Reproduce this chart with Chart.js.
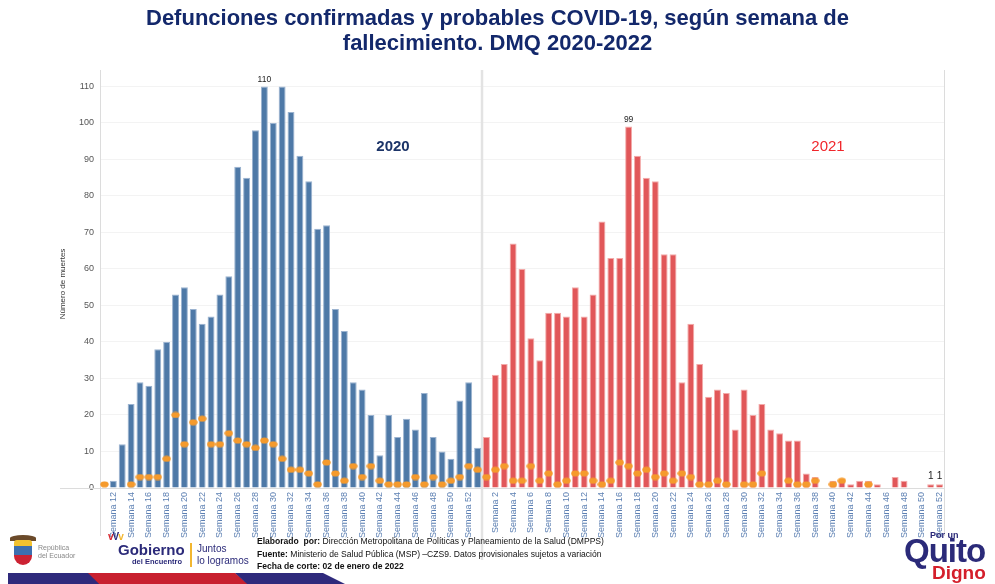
<!DOCTYPE html>
<html>
<head>
<meta charset="utf-8">
<script src="https://cdn.jsdelivr.net/npm/chart.js@4.4.1/dist/chart.umd.min.js"></script>
<style>
  html, body { margin: 0; padding: 0; background: #fff; }
  body { width: 995px; height: 584px; position: relative; overflow: hidden; font-family: "Liberation Sans", Arial, sans-serif; }
  #chart { position: absolute; left: 0; top: 0; }
  .titulo { position: absolute; left: 0; width: 995px; top: 5px; text-align: center; color: #13286b;
    font-weight: bold; font-size: 22px; line-height: 25px; }
  .nota { position: absolute; left: 257px; top: 535px; white-space: nowrap;
    font-size: 9.5px; line-height: 12.5px; color: #111; transform: scaleX(0.9); transform-origin: left top; }
  .nota b { font-weight: bold; }
  .ecu { position: absolute; left: 38px; top: 544px; font-size: 7px; line-height: 8px; color: #888; }
  .escudo { position: absolute; left: 14px; top: 540px; width: 18px; height: 25px; border-radius: 3px 3px 9px 9px;
    background: linear-gradient(#f2c230 0 25%, #3d6fb0 25% 60%, #c23 60%); }
  .condor { position: absolute; left: 10px; top: 535px; width: 26px; height: 6px; border-radius: 50% 50% 0 0; background: #6b4a2a; }
  .gob { position: absolute; left: 118px; top: 542px; color: #2b2a79; font-weight: bold; font-size: 15px; line-height: 15px; white-space: nowrap; }
  .gob small { display: block; font-size: 7.5px; line-height: 10px; margin-left: 14px; }
  .flechas { position: absolute; left: 108px; top: 531px; font-size: 10px; font-weight: bold; letter-spacing: -1px; }
  .juntos { position: absolute; left: 190px; top: 543px; color: #2b2a79; font-size: 10px; line-height: 12px;
    border-left: 2px solid #f2b630; padding-left: 5px; white-space: nowrap; }
  .quito { position: absolute; left: 903px; top: 530px; color: #2b2a79; font-weight: bold; white-space: nowrap; }
  .quito .por { position: absolute; left: 27px; top: 0; font-size: 9px; }
  .quito .q { position: absolute; left: 1px; top: 4px; font-size: 33px; line-height: 34px; letter-spacing: -1px; }
  .quito .d { position: absolute; left: 29px; top: 33px; font-size: 19px; line-height: 20px; color: #d41f2b; }
  .franja { position: absolute; top: 573px; height: 11px; }
</style>
</head>
<body>
<canvas id="chart" width="995" height="584"></canvas>
<div class="titulo">Defunciones confirmadas y probables COVID-19, según semana de<br>fallecimiento. DMQ 2020-2022</div>

<div class="condor"></div>
<div class="escudo"></div>
<div class="ecu">República<br>del Ecuador</div>
<div class="flechas"><span style="color:#d8262e">v</span><span style="color:#2b2a79">V</span><span style="color:#f2b630">v</span></div>
<div class="gob">Gobierno<small>del Encuentro</small></div>
<div class="juntos">Juntos<br>lo logramos</div>
<div class="nota">
  <b>Elaborado&nbsp; por:</b> Dirección Metropolitana de Políticas y Planeamiento de la Salud (DMPPS)<br>
  <b>Fuente:</b> Ministerio de Salud Pública (MSP) –CZS9. Datos provisionales sujetos a variación<br>
  <b>Fecha de corte: 02 de enero de 2022</b>
</div>
<div class="quito"><span class="por">Por un</span><span class="q">Quito</span><span class="d">Digno</span></div>
<div class="franja" style="left:8px;width:92px;background:#2f2a7c;clip-path:polygon(0 0,88% 0,100% 100%,0 100%)"></div>
<div class="franja" style="left:88px;width:160px;background:#c8202f;clip-path:polygon(0 0,92% 0,100% 100%,7% 100%)"></div>
<div class="franja" style="left:235px;width:110px;background:#2f2a7c;clip-path:polygon(0 0,80% 0,100% 100%,11% 100%)"></div>

<script>
// Semanas epidemiologicas
const semanas2020 = [11,12,13,14,15,16,17,18,19,20,21,22,23,24,25,26,27,28,29,30,31,32,33,34,35,36,37,38,39,40,41,42,43,44,45,46,47,48,49,50,51,52,53];
const semanas2021 = [1,2,3,4,5,6,7,8,9,10,11,12,13,14,15,16,17,18,19,20,21,22,23,24,25,26,27,28,29,30,31,32,33,34,35,36,37,38,39,40,41,42,43,44,45,46,47,48,49,50,51,52];

// Numero de muertes por semana (barras)
const muertes2020 = [null,2,12,23,29,28,38,40,53,55,49,45,47,53,58,88,85,98,110,100,110,103,91,84,71,72,49,43,29,27,20,9,20,14,19,16,26,14,10,8,24,29,11];
const muertes2021 = [14,31,34,67,60,41,35,48,48,47,55,47,53,73,63,63,99,91,85,84,64,64,29,45,34,25,27,26,16,27,20,23,16,15,13,13,4,3,null,2,2,1,2,2,1,null,3,2,null,null,1,1];

// Puntos naranjas
const puntos2020 = [1,null,null,1,3,3,3,8,20,12,18,19,12,12,15,13,12,11,13,12,8,5,5,4,1,7,4,2,6,3,6,2,1,1,1,3,1,3,1,2,3,6,5];
const puntos2021 = [3,5,6,2,2,6,2,4,1,2,4,4,2,1,2,7,6,4,5,3,4,2,4,3,1,1,2,1,null,1,1,4,null,null,2,1,1,2,null,1,2,null,null,1,null,null,null,null,null,null,null,null];

// Etiquetas de valor (indice global, texto)
const etiquetas = [[18, '110'], [43 + 16, '99'], [43 + 50, '1'], [43 + 51, '1']];

const labels = [...semanas2020, ...semanas2021];
const vacio2020 = semanas2020.map(() => null);
const vacio2021 = semanas2021.map(() => null);

// punto ovalado
const punto = document.createElement('canvas');
punto.width = 9; punto.height = 7;
(function () {
  const c = punto.getContext('2d');
  c.fillStyle = '#f59a2c';
  c.beginPath();
  c.ellipse(4.5, 3.5, 4.2, 3.1, 0, 0, Math.PI * 2);
  c.fill();
})();

const extras = {
  id: 'extras',
  beforeDatasetsDraw(chart) {
    const { ctx, chartArea: a, scales: { x } } = chart;
    ctx.save();
    // eje izquierdo y linea base
    ctx.strokeStyle = '#dcdcdc';
    ctx.lineWidth = 1;
    ctx.beginPath();
    ctx.moveTo(a.left + 0.5, a.top);
    ctx.lineTo(a.left + 0.5, 536);
    ctx.moveTo(60, a.bottom + 0.5);
    ctx.lineTo(a.right, a.bottom + 0.5);
    ctx.moveTo(a.right + 0.5, a.top);
    ctx.lineTo(a.right + 0.5, 536);
    ctx.stroke();
    // separador de anios
    const sx = (x.getPixelForValue(42) + x.getPixelForValue(43)) / 2;
    ctx.strokeStyle = '#e3e3e3';
    ctx.lineWidth = 2.5;
    ctx.beginPath();
    ctx.moveTo(sx, a.top);
    ctx.lineTo(sx, 560);
    ctx.stroke();
    ctx.restore();
  },
  afterDatasetsDraw(chart) {
    const { ctx, chartArea: a, scales: { x, y } } = chart;
    ctx.save();
    ctx.fillStyle = '#222';
    ctx.textAlign = 'center';
    ctx.textBaseline = 'bottom';
    etiquetas.forEach(([i, t]) => {
      const v = (i < 43 ? muertes2020[i] : muertes2021[i - 43]);
      ctx.font = t === '1' ? '10px "Liberation Sans"' : '8.5px "Liberation Sans"';
      ctx.fillText(t, x.getPixelForValue(i), y.getPixelForValue(v) - 3);
    });
    // anios
    ctx.textBaseline = 'middle';
    ctx.font = 'bold 15px "Liberation Sans"';
    ctx.fillStyle = '#1c3468';
    ctx.fillText('2020', 393, 147);
    ctx.font = '15px "Liberation Sans"';
    ctx.fillStyle = '#f0262b';
    ctx.fillText('2021', 828, 147);
    // titulo eje y
    ctx.translate(63, (a.top + a.bottom) / 2 + 5);
    ctx.rotate(-Math.PI / 2);
    ctx.font = '8px "Liberation Sans"';
    ctx.fillStyle = '#333';
    ctx.fillText('Número de muertes', 0, 0);
    ctx.restore();
  }
};

new Chart(document.getElementById('chart'), {
  data: {
    labels: labels,
    datasets: [
      {
        type: 'scatter',
        label: 'Puntos',
        data: [...puntos2020, ...puntos2021],
        pointStyle: punto,
        pointRadius: 4,
        showLine: false,
        order: 0
      },
      {
        type: 'bar',
        label: '2020',
        data: [...muertes2020, ...vacio2021],
        backgroundColor: '#4e79a7',
        borderColor: '#9bb3d0',
        borderWidth: 1,
        grouped: false,
        barPercentage: 0.78,
        categoryPercentage: 1,
        order: 1
      },
      {
        type: 'bar',
        label: '2021',
        data: [...vacio2020, ...muertes2021],
        backgroundColor: '#e15759',
        borderColor: '#f3aaa9',
        borderWidth: 1,
        grouped: false,
        barPercentage: 0.78,
        categoryPercentage: 1,
        order: 1
      }
    ]
  },
  options: {
    responsive: false,
    animation: false,
    layout: { padding: { left: 50, right: 51, top: 70, bottom: 46 } },
    plugins: { legend: { display: false }, tooltip: { enabled: false } },
    scales: {
      x: {
        type: 'category',
        offset: true,
        grid: { display: false, drawTicks: false },
        border: { display: false },
        afterFit(s) { s.height = 50; },
        ticks: {
          autoSkip: false,
          minRotation: 90,
          maxRotation: 90,
          padding: 4,
          color: '#5d80b3',
          font: { family: 'Liberation Sans', size: 9 },
          callback(v, i) {
            const n = labels[i];
            return n % 2 === 0 && !(i < 43 && n === 53) ? 'Semana ' + n : '';
          }
        }
      },
      y: {
        min: 0,
        max: 114.5,
        grid: { color: '#f3f3f3', drawTicks: false },
        border: { display: false },
        afterFit(s) { s.width = 50; },
        afterBuildTicks(s) { s.ticks = s.ticks.filter(t => t.value % 10 === 0); },
        ticks: {
          stepSize: 10,
          padding: 6,
          color: '#555',
          font: { family: 'Liberation Sans', size: 9 }
        }
      }
    }
  },
  plugins: [extras]
});
</script>
</body>
</html>
